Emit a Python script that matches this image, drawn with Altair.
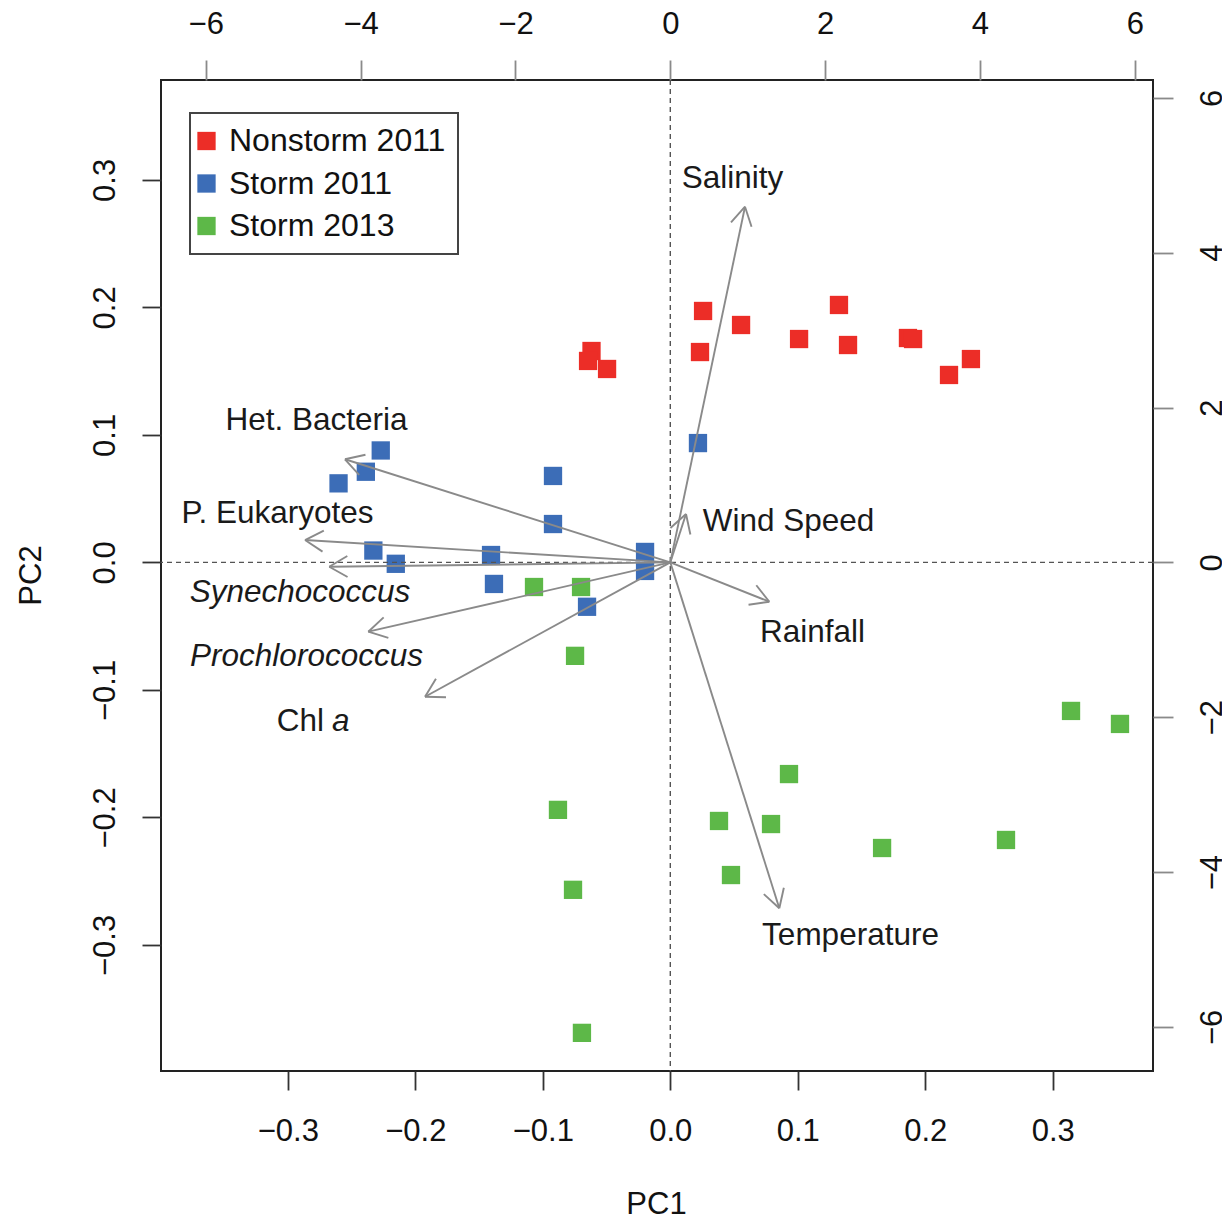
import math
import altair as alt
import pandas as pd

FONT = "Liberation Sans"

# ---------------- sample scores (bottom / left axes) ----------------
groups = ["Nonstorm 2011", "Storm 2011", "Storm 2013"]
group_colors = ["#EC2D27", "#3C6DB7", "#5DB848"]

nonstorm2011_pc1 = [-0.0618, -0.0645, -0.0496, 0.0257, 0.0233, 0.0555, 0.1010,
                    0.1323, 0.1394, 0.1864, 0.1904, 0.2186, 0.2358]
nonstorm2011_pc2 = [0.1658, 0.1580, 0.1517, 0.1972, 0.1650, 0.1862, 0.1752,
                    0.2019, 0.1705, 0.1760, 0.1752, 0.1470, 0.1595]

storm2011_pc1 = [-0.2271, -0.2388, -0.2602, -0.2329, -0.2153, -0.0920, -0.0920,
                 0.0217, -0.1406, -0.1383, -0.0198, -0.0198, -0.0653]
storm2011_pc2 = [0.0878, 0.0711, 0.0620, 0.0093, -0.0011, 0.0678, 0.0301,
                 0.0936, 0.0058, -0.0169, 0.0082, -0.0067, -0.0348]

storm2013_pc1 = [-0.1069, -0.0700, -0.0747, -0.0881, -0.0763, -0.0693, 0.0931,
                 0.0382, 0.0790, 0.0476, 0.1661, 0.2633, 0.3143, 0.3527]
storm2013_pc2 = [-0.0193, -0.0193, -0.0733, -0.1941, -0.2568, -0.3690, -0.1660,
                 -0.2028, -0.2052, -0.2452, -0.2240, -0.2177, -0.1165, -0.1267]

# ---------------- variable loadings (top / right axes) ----------------
var_names = ["Salinity", "Wind Speed", "Rainfall", "Temperature", "Het. Bacteria",
             "P. Eukaryotes", "Synechococcus", "Prochlorococcus", "Chl a"]
load_pc1 = [0.965, 0.203, 1.279, 1.408, -4.202, -4.718, -4.405, -3.901, -3.168]
load_pc2 = [4.594, 0.625, -0.508, -4.468, 1.332, 0.289, -0.056, -0.895, -1.735]

# ---------------- arrow labels (top / right axis units) ----------------
label_text = ["Salinity", "Wind Speed", "Rainfall", "Temperature", "Het. Bacteria",
              "P. Eukaryotes", "Synechococcus", "Prochlorococcus", "Chl", "a"]
label_pc1 = [0.803, 1.527, 1.837, 2.328, -4.570, -5.074, -4.783, -4.699, -4.474, -4.371]
label_pc2 = [4.965, 0.535, -0.899, -4.813, 1.839, 0.638, -0.382, -1.209, -2.049, -2.049]
label_style = ["normal", "normal", "normal", "normal", "normal", "normal",
               "italic", "italic", "normal", "italic"]
label_align = ["center", "center", "center", "center", "center", "center",
               "center", "center", "right", "left"]

# tick labels
bottom_ticks = [-0.3, -0.2, -0.1, 0.0, 0.1, 0.2, 0.3]
left_ticks = [-0.3, -0.2, -0.1, 0.0, 0.1, 0.2, 0.3]
top_ticks = [-6, -4, -2, 0, 2, 4, 6]
right_ticks = [-6, -4, -2, 0, 2, 4, 6]

# ---------------- tables ----------------
rows = []
for g, xs, ys in zip(groups,
                     [nonstorm2011_pc1, storm2011_pc1, storm2013_pc1],
                     [nonstorm2011_pc2, storm2011_pc2, storm2013_pc2]):
    for a, b in zip(xs, ys):
        rows.append({"pc1": a, "pc2": b, "group": g})
points_df = pd.DataFrame(rows)

arrows_df = pd.DataFrame({"u0": [0.0] * len(var_names), "v0": [0.0] * len(var_names),
                          "u": load_pc1, "v": load_pc2, "name": var_names})

HEAD_LEN = 0.271
HEAD_ANG = math.radians(30)
head_rows = []
for u, v in zip(load_pc1, load_pc2):
    th = math.atan2(v, u)
    for s in (HEAD_ANG, -HEAD_ANG):
        head_rows.append({"u": u, "v": v,
                          "u2": u - HEAD_LEN * math.cos(th + s),
                          "v2": v - HEAD_LEN * math.sin(th + s)})
heads_df = pd.DataFrame(head_rows)

labels_df = pd.DataFrame({"u": label_pc1, "v": label_pc2, "text": label_text,
                          "style": label_style, "align": label_align})

# ---------------- scales & axes ----------------
x1_scale = alt.Scale(domain=[-0.39945, 0.37859], nice=False, zero=False)
y1_scale = alt.Scale(domain=[-0.3989, 0.37835], nice=False, zero=False)
x2_scale = alt.Scale(domain=[-6.5784, 6.2348], nice=False, zero=False)
y2_scale = alt.Scale(domain=[-6.5694, 6.2310], nice=False, zero=False)

common_axis = dict(grid=False, domain=False, labelFont=FONT, labelFontSize=31,
                   labelColor="#111", labelFlush=False, labelOverlap=False,
                   tickWidth=1.8, titleFont=FONT, titleFontSize=31,
                   titleFontWeight="normal", titleColor="#111")

ax_bottom = alt.Axis(orient="bottom", values=bottom_ticks, format=".1f", title="PC1",
                     tickSize=19, tickColor="#333", labelPadding=41,
                     labelAlign="center", labelBaseline="middle",
                     titleX=495, titleY=133, titleAlign="center",
                     titleBaseline="middle", titleAngle=0, **common_axis)
ax_left = alt.Axis(orient="left", values=left_ticks, format=".1f", title="PC2",
                   tickSize=19, tickColor="#333", labelPadding=37,
                   labelAngle=270, labelAlign="center", labelBaseline="middle",
                   titleX=-130, titleY=495, titleAlign="center",
                   titleBaseline="middle", titleAngle=270, **common_axis)
ax_top = alt.Axis(orient="top", values=top_ticks, format="d", title=None,
                  tickSize=20, tickColor="#8a8a8a", labelPadding=36,
                  labelAlign="center", labelBaseline="middle", **common_axis)
ax_right = alt.Axis(orient="right", values=right_ticks, format="d", title=None,
                    tickSize=20, tickColor="#8a8a8a", labelPadding=39,
                    labelAngle=270, labelAlign="center", labelBaseline="middle",
                    **common_axis)


def X2(field):
    return alt.X(field, type="quantitative", scale=x2_scale, axis=ax_top)


def Y2(field):
    return alt.Y(field, type="quantitative", scale=y2_scale, axis=ax_right)


legend = alt.Legend(title=None, orient="none", legendX=29, legendY=33, padding=12,
                    strokeColor="#444", labelFont=FONT, labelFontSize=32,
                    labelColor="#111", labelOffset=6.5, labelLimit=500,
                    symbolType="square", symbolSize=335, symbolStrokeWidth=0,
                    symbolOffset=-11.5, rowPadding=10.5, fillColor="white")

points = alt.Chart(points_df).mark_square(size=335, opacity=1).encode(
    x=alt.X("pc1:Q", scale=x1_scale, axis=ax_bottom),
    y=alt.Y("pc2:Q", scale=y1_scale, axis=ax_left),
    color=alt.Color("group:N", scale=alt.Scale(domain=groups, range=group_colors),
                    legend=legend),
)

ARROW_COLOR = "#8a8a8a"
dash_v = alt.Chart(pd.DataFrame({"u": [0.0]})).mark_rule(
    color="#555", strokeWidth=1.4, strokeDash=[5, 4]).encode(x=X2("u"))
dash_h = alt.Chart(pd.DataFrame({"v": [0.0]})).mark_rule(
    color="#555", strokeWidth=1.4, strokeDash=[5, 4]).encode(y=Y2("v"))

shafts = alt.Chart(arrows_df).mark_rule(color=ARROW_COLOR, strokeWidth=1.9).encode(
    x=X2("u0"), y=Y2("v0"), x2=alt.X2("u"), y2=alt.Y2("v"))
heads = alt.Chart(heads_df).mark_rule(color=ARROW_COLOR, strokeWidth=1.9).encode(
    x=X2("u"), y=Y2("v"), x2=alt.X2("u2"), y2=alt.Y2("v2"))

text_layers = []
for style in ["normal", "italic"]:
    for align in ["center", "right", "left"]:
        sub = labels_df[(labels_df["style"] == style) & (labels_df["align"] == align)]
        if len(sub) == 0:
            continue
        text_layers.append(
            alt.Chart(sub).mark_text(font=FONT, fontSize=31.5, fontStyle=style,
                                     align=align, baseline="middle", dy=1,
                                     color="#1a1a1a").encode(
                x=X2("u"), y=Y2("v"), text="text:N"))

biplot = alt.layer(dash_v, dash_h, shafts, heads, *text_layers)

chart = alt.layer(points, biplot).resolve_scale(
    x="independent", y="independent"
).properties(
    width=992, height=991,
    padding={"left": 153, "top": 72, "right": 69, "bottom": 143},
    autosize=alt.AutoSizeParams(type="none"),
).configure_view(stroke="#222", strokeWidth=2).configure_legend(strokeWidth=2)

chart.save("out.html", embed_options={"renderer": "svg", "actions": False})
